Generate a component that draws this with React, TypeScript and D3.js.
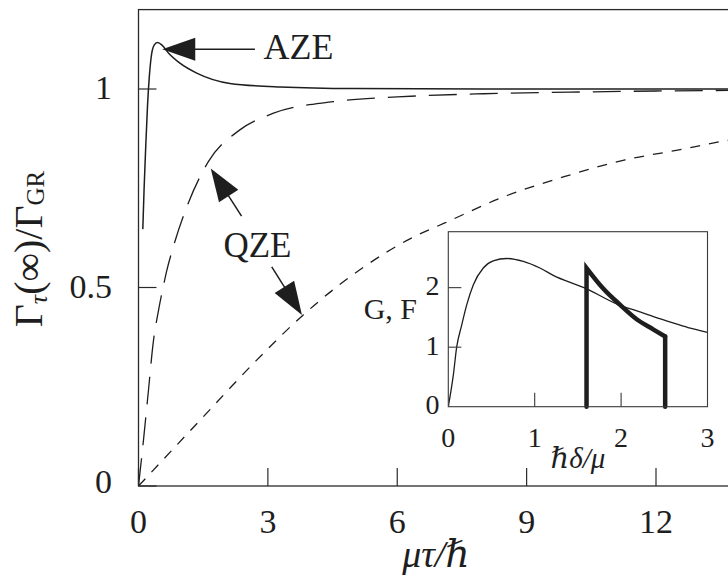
import React from "react";
import * as d3 from "d3";

// Main panel: relative decay rate versus measurement interval
const TAU_AZE = [0.1, 0.13, 0.17, 0.21, 0.25, 0.3, 0.36, 0.44, 0.55, 0.7, 0.96, 1.35, 2.12, 3.28, 5, 8, 15];
const RATE_AZE = [0.647, 0.75, 0.86, 0.96, 1.03, 1.085, 1.11, 1.117, 1.11, 1.09, 1.065, 1.04, 1.014, 1.005, 1.001, 1.0, 1.0];

const TAU_QZE_FAST = [0, 0.11, 0.23, 0.34, 0.46, 0.57, 0.65, 0.8, 1.12, 1.62, 2.35, 3.13, 4.52, 6, 8, 10, 12, 15];
const RATE_QZE_FAST = [0, 0.11, 0.24, 0.36, 0.44, 0.5, 0.54, 0.6, 0.703, 0.817, 0.897, 0.939, 0.968, 0.98, 0.988, 0.992, 0.995, 0.997];

const TAU_QZE_SLOW = [0, 1.43, 2.74, 3.82, 5.23, 6.39, 7.09, 8.48, 9.87, 11.26, 12.5, 13.68, 15];
const RATE_QZE_SLOW = [0, 0.166, 0.317, 0.431, 0.552, 0.628, 0.662, 0.729, 0.779, 0.821, 0.846, 0.871, 0.89];

const X_TICKS = [0, 3, 6, 9, 12];
const Y_TICKS = [0, 0.5, 1];
const Y_TICK_LABELS = ["0", "0.5", "1"];

// Inset: spectral functions G (thin) and F (thick) versus detuning
const DELTA_G = [0, 0.058, 0.097, 0.155, 0.213, 0.29, 0.405, 0.52, 0.676, 0.868, 1.06, 1.25, 1.41, 1.57, 1.96, 2.2, 2.4, 2.6, 2.8, 3.0];
const VAL_G = [0, 0.53, 1.0, 1.37, 1.71, 2.05, 2.33, 2.45, 2.49, 2.44, 2.33, 2.18, 2.09, 2.0, 1.72, 1.6, 1.5, 1.41, 1.32, 1.25];

const DELTA_F = [1.6, 1.79, 1.99, 2.18, 2.37, 2.51];
const VAL_F = [2.33, 1.99, 1.71, 1.47, 1.3, 1.18];

const INSET_X_TICKS = [0, 1, 2, 3];
const INSET_Y_TICKS = [0, 1, 2];

// Annotation anchors in data units
const AZE_ARROW = { tip: [0.55, 1.1], tail: [2.7, 1.1] };
const AZE_TEXT = [2.9, 1.075];
const QZE_ARROWS = [
  { tip: [1.675, 0.8], tail: [2.39, 0.68] },
  { tip: [3.79, 0.431], tail: [3.09, 0.552] },
];
const QZE_TEXT = [1.97, 0.578];

const W = 728;
const H = 579;
const FONT = "'Liberation Serif', 'DejaVu Serif', serif";
const INK = "#1e1e1e";

const x = d3.scaleLinear().domain([0, 15]).range([138.5, 138.5 + 15 * 43.125]);
const y = d3.scaleLinear().domain([0, 1.2]).range([486, 486 - 1.2 * 397]);

const ix = d3.scaleLinear().domain([0, 3]).range([448.3, 707.5]);
const iy = d3.scaleLinear().domain([0, 2.94]).range([406.7, 231.7]);

const zip = (a: number[], b: number[]) => a.map((v, i) => [v, b[i]] as [number, number]);

const mainLine = d3
  .line<[number, number]>()
  .x((d) => x(d[0]))
  .y((d) => y(d[1]))
  .curve(d3.curveMonotoneX);

const insetLine = d3
  .line<[number, number]>()
  .x((d) => ix(d[0]))
  .y((d) => iy(d[1]))
  .curve(d3.curveMonotoneX);

function Arrow({ tip, tail }: { tip: number[]; tail: number[] }) {
  const tx = x(tip[0]);
  const ty = y(tip[1]);
  const sx = x(tail[0]);
  const sy = y(tail[1]);
  const len = Math.hypot(tx - sx, ty - sy);
  const ux = (tx - sx) / len;
  const uy = (ty - sy) / len;
  const headLen = 33;
  const headHalf = 11.5;
  const bx = tx - ux * headLen;
  const by = ty - uy * headLen;
  const pts = [
    [tx, ty],
    [bx - uy * headHalf, by + ux * headHalf],
    [bx + uy * headHalf, by - ux * headHalf],
  ];
  return (
    <g>
      <line x1={sx} y1={sy} x2={bx + ux * 2} y2={by + uy * 2} stroke={INK} strokeWidth={1.5} />
      <polygon points={pts.map((p) => p.join(",")).join(" ")} fill={INK} />
    </g>
  );
}

export default function App() {
  const plotLeft = x.range()[0];
  const plotRight = x.range()[1];
  const plotTop = y.range()[1];
  const plotBottom = y.range()[0];

  const fPath = insetLine(zip(DELTA_F, VAL_F)) || "";
  const fStart = DELTA_F[0];
  const fEnd = DELTA_F[DELTA_F.length - 1];

  return (
    <svg
      width={W}
      height={H}
      viewBox={`0 0 ${W} ${H}`}
      style={{ position: "absolute", left: 0, top: 0, background: "#fff" }}
      fontFamily={FONT}
    >
      <defs>
        <clipPath id="plotArea">
          <rect x={plotLeft} y={plotTop} width={plotRight - plotLeft} height={plotBottom - plotTop} />
        </clipPath>
        <clipPath id="insetArea">
          <rect x={ix(0)} y={iy(2.94)} width={ix(3) - ix(0)} height={iy(0) - iy(2.94)} />
        </clipPath>
      </defs>
      <rect x={0} y={0} width={W} height={H} fill="#fff" />

      {/* main curves */}
      <g clipPath="url(#plotArea)" fill="none" stroke={INK}>
        <path d={mainLine(zip(TAU_QZE_SLOW, RATE_QZE_SLOW)) || ""} strokeWidth={1.3} strokeDasharray="10 9" />
        <path d={mainLine(zip(TAU_QZE_FAST, RATE_QZE_FAST)) || ""} strokeWidth={1.3} strokeDasharray="28 13" />
        <path d={mainLine(zip(TAU_AZE, RATE_AZE)) || ""} strokeWidth={1.5} />
      </g>

      {/* main frame and ticks */}
      <rect
        x={plotLeft}
        y={plotTop}
        width={plotRight - plotLeft}
        height={plotBottom - plotTop}
        fill="none"
        stroke="#2a2a2a"
        strokeWidth={1.3}
      />
      {X_TICKS.map((t) => (
        <g key={`xt${t}`}>
          <line x1={x(t)} x2={x(t)} y1={plotBottom} y2={plotBottom - 18} stroke="#2a2a2a" strokeWidth={1.2} />
          <text x={x(t)} y={533} textAnchor="middle" fontSize={34} fill={INK}>
            {t}
          </text>
        </g>
      ))}
      {Y_TICKS.map((t, i) => (
        <g key={`yt${t}`}>
          <line x1={plotLeft} x2={plotLeft + 18} y1={y(t)} y2={y(t)} stroke="#2a2a2a" strokeWidth={1.2} />
          <text x={112} y={y(t) + (t === 0 ? 7 : 10)} textAnchor="end" fontSize={34} fill={INK}>
            {Y_TICK_LABELS[i]}
          </text>
        </g>
      ))}

      {/* axis titles */}
      <text x={436} y={567} textAnchor="middle" fontSize={38} fontStyle="italic" fill={INK}>
        μτ/ℏ
      </text>
      <text transform="translate(42,249) rotate(-90)" textAnchor="middle" fontSize={40} fill={INK}>
        Γ
        <tspan fontSize={26} fontStyle="italic" dy={5}>
          τ
        </tspan>
        <tspan dy={-5}>(∞)/Γ</tspan>
        <tspan fontSize={25} dy={2}>
          GR
        </tspan>
      </text>

      {/* annotations */}
      <Arrow tip={AZE_ARROW.tip} tail={AZE_ARROW.tail} />
      <text x={x(AZE_TEXT[0])} y={y(AZE_TEXT[1])} fontSize={36} fill={INK}>
        AZE
      </text>
      {QZE_ARROWS.map((a, i) => (
        <Arrow key={`qa${i}`} tip={a.tip} tail={a.tail} />
      ))}
      <text x={x(QZE_TEXT[0])} y={y(QZE_TEXT[1])} fontSize={35} fill={INK}>
        QZE
      </text>

      {/* inset */}
      <rect x={ix(0)} y={iy(2.94)} width={ix(3) - ix(0)} height={iy(0) - iy(2.94)} fill="#fff" />
      <g clipPath="url(#insetArea)" fill="none" stroke={INK}>
        <path d={insetLine(zip(DELTA_G, VAL_G)) || ""} strokeWidth={1.3} />
      </g>
      <g fill="none" stroke={INK} strokeWidth={4.5} strokeLinejoin="miter" strokeLinecap="round">
        <path d={`M${ix(fStart)},${iy(0)}L${ix(fStart)},${iy(VAL_F[0])}` + fPath.replace(/^M[^LC]*/, "")} />
        <line x1={ix(fEnd)} y1={iy(VAL_F[VAL_F.length - 1])} x2={ix(fEnd)} y2={iy(0)} />
      </g>
      <rect
        x={ix(0)}
        y={iy(2.94)}
        width={ix(3) - ix(0)}
        height={iy(0) - iy(2.94)}
        fill="none"
        stroke="#3a3a3a"
        strokeWidth={1.1}
      />
      {INSET_X_TICKS.map((t) => (
        <g key={`ixt${t}`}>
          {t > 0 && t < 3 && (
            <line x1={ix(t)} x2={ix(t)} y1={iy(0)} y2={iy(0) - 14} stroke="#3a3a3a" strokeWidth={1.1} />
          )}
          <text x={ix(t)} y={446.7} textAnchor="middle" fontSize={28} fill={INK}>
            {t}
          </text>
        </g>
      ))}
      {INSET_Y_TICKS.map((t) => (
        <g key={`iyt${t}`}>
          {t > 0 && <line x1={ix(0)} x2={ix(0) + 13} y1={iy(t)} y2={iy(t)} stroke="#3a3a3a" strokeWidth={1.1} />}
          <text x={439.5} y={iy(t) + 7.5} textAnchor="end" fontSize={28} fill={INK}>
            {t}
          </text>
        </g>
      ))}
      <text x={417} y={318.5} textAnchor="end" fontSize={30} fill={INK}>
        G, F
      </text>
      <text x={578} y={468} textAnchor="middle" fontSize={29} fontStyle="italic" fill={INK}>
        ℏδ/μ
      </text>
    </svg>
  );
}
